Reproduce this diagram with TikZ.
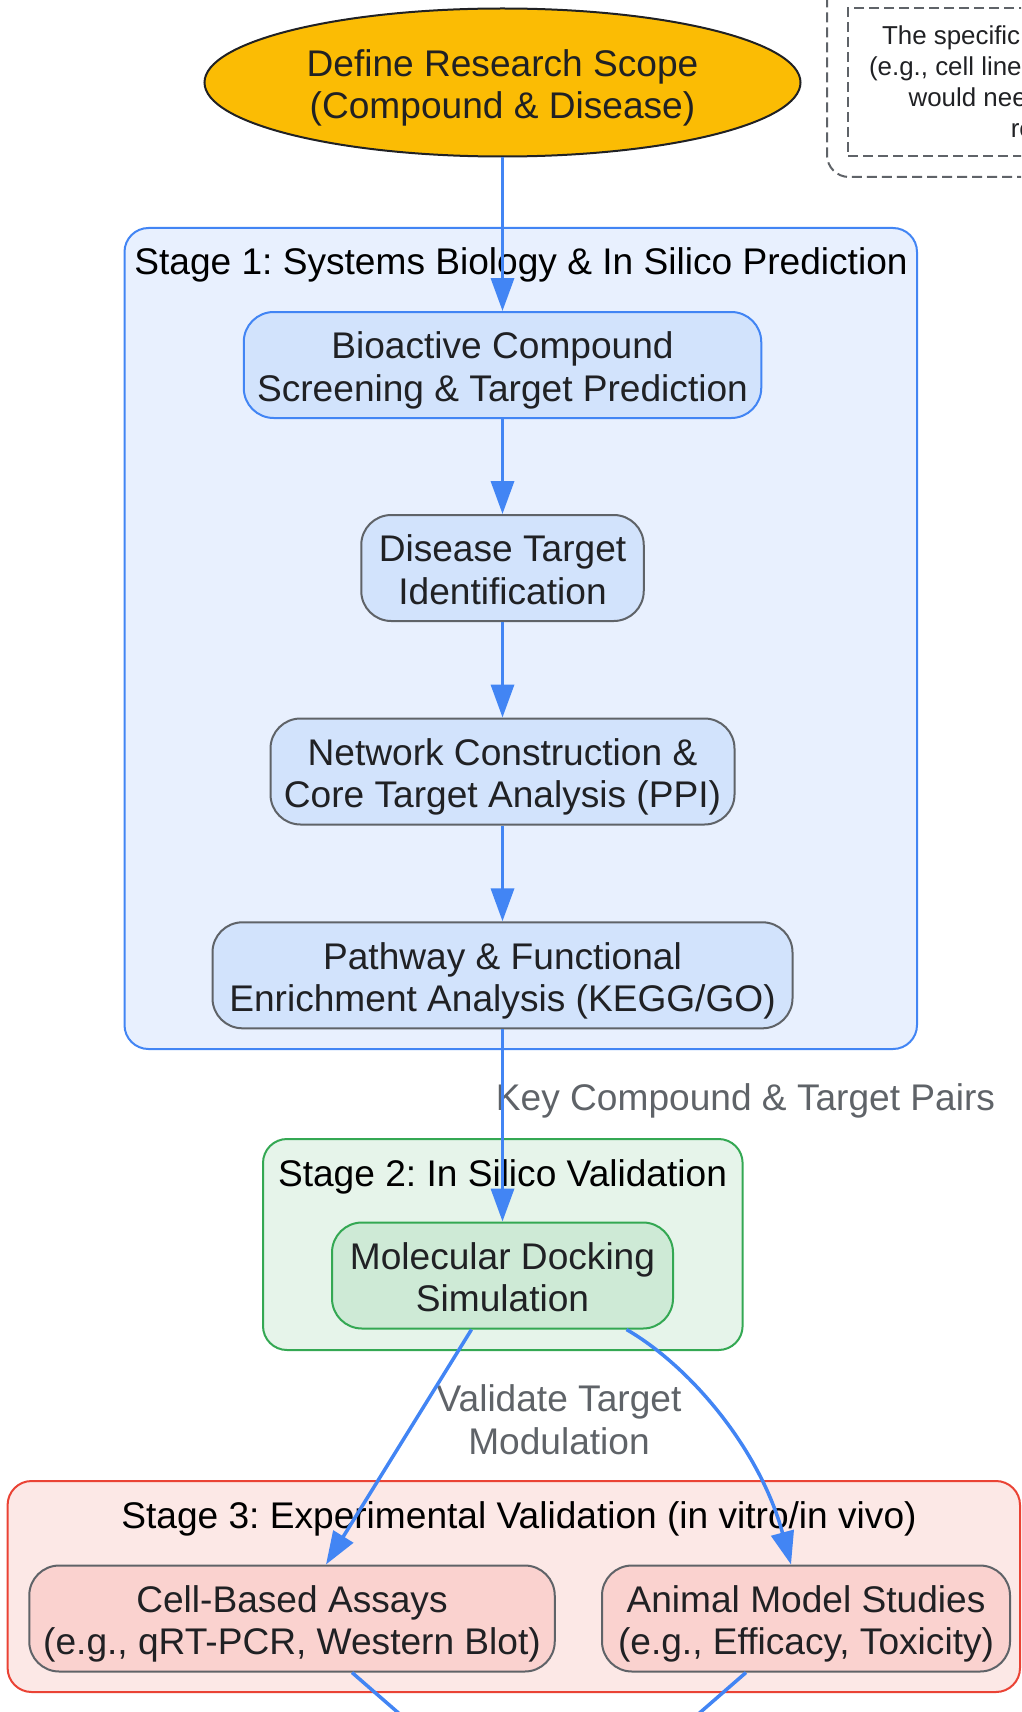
\documentclass[tikz,border=0pt]{standalone}
\usepackage{fontspec}
\setmainfont{Liberation Sans}
\usetikzlibrary{shapes.geometric,arrows.meta}
\definecolor{ink}{HTML}{202124}
\definecolor{gline}{HTML}{5F6368}
\definecolor{gblue}{HTML}{4285F4}
\definecolor{ggreen}{HTML}{34A853}
\definecolor{gred}{HTML}{EA4335}
\definecolor{gyellow}{HTML}{FBBC04}
\definecolor{bluebg}{HTML}{E8F0FE}
\definecolor{bluefill}{HTML}{D2E3FC}
\definecolor{greenbg}{HTML}{E6F4EA}
\definecolor{greenfill}{HTML}{CEEAD6}
\definecolor{redbg}{HTML}{FCE8E6}
\definecolor{redfill}{HTML}{FAD2CF}
\frenchspacing
\begin{document}
\begin{tikzpicture}[x=1pt,y=-1pt,
  every node/.style={font=\fontsize{37.1}{42.6}\selectfont,text=ink,align=center,inner sep=0pt},
  twoline/.style={execute at begin node={\rule{0pt}{80.6pt}},execute at end node={\rule[-8pt]{0pt}{0pt}}},
  task/.style={twoline,draw=gline,line width=2pt,fill=bluefill,rounded corners=30pt,minimum height=106pt},
  stagebox/.style={line width=2pt,rounded corners=24pt},
  stagetitle/.style={text=black,anchor=base},
  edgelbl/.style={text=gline},
  notedash/.style={draw=gline,line width=2pt,dash pattern=on 10pt off 5pt},
  flow/.style={draw=gblue,line width=3.5pt,-{Triangle[length=33pt,width=23pt]}}]
 \useasboundingbox (0,0) rectangle (1021,1712);
 \clip (0,0) rectangle (1021,1712);
 \node (notegroup) [notedash,rounded corners=22pt,minimum width=516pt,minimum height=220pt] at (1085,67) {};
 \node (note) [notedash,minimum width=474pt,minimum height=148pt,font=\fontsize{25.9}{31}\selectfont]
   at (1085,82) {The specific experimental protocols\\(e.g., cell lines, animal strains, doses)\\would need to be optimized for\\reliable data.};
 \node (stage1) [stagebox,draw=gblue,fill=bluebg,minimum width=792.5pt,minimum height=821pt] at (520.75,638.5) {};
 \node (stage2) [stagebox,draw=ggreen,fill=greenbg,minimum width=479.6pt,minimum height=211pt] at (502.8,1244.5) {};
 \node (stage3) [stagebox,draw=gred,fill=redbg,minimum width=1012.4pt,minimum height=211pt] at (513.8,1586.5) {};
 \node (title1) [stagetitle] at (521,274) {Stage 1: Systems Biology \& In Silico Prediction};
 \node (title2) [stagetitle] at (502.5,1186) {Stage 2: In Silico Validation};
 \node (title3) [stagetitle] at (519,1528) {Stage 3: Experimental Validation (in vitro/in vivo)};
 \node (scope) [ellipse,twoline,draw=ink,line width=2pt,fill=gyellow,minimum width=596pt,minimum height=148pt]
   at (502.5,82.5) {Define Research Scope\\(Compound \& Disease)};
 \node (b1) [task,draw=gblue,minimum width=517.5pt] at (502.5,365) {Bioactive Compound\\Screening \& Target Prediction};
 \node (b2) [task,minimum width=282.5pt] at (502.5,568) {Disease Target\\Identification};
 \node (b3) [task,minimum width=464pt] at (502.5,771.5) {Network Construction \&\\Core Target Analysis (PPI)};
 \node (b4) [task,minimum width=580pt] at (502.5,975.3) {Pathway \& Functional\\Enrichment Analysis (KEGG/GO)};
 \node (dock) [task,draw=ggreen,fill=greenfill,minimum width=341pt] at (502.5,1275.5) {Molecular Docking\\Simulation};
 \node (cell) [task,fill=redfill,minimum width=525.5pt] at (292,1618.5) {Cell-Based Assays\\(e.g., qRT-PCR, Western Blot)};
 \node (animal) [task,fill=redfill,minimum width=408pt] at (806,1618.5) {Animal Model Studies\\(e.g., Efficacy, Toxicity)};
 \coordinate (next) at (549,1844);
 \node (lblkey) [edgelbl] at (745.5,1101) {Key Compound \& Target Pairs};
 \node (lblval) [edgelbl] at (559,1420) {Validate Target\\Modulation};
 \draw[flow] (scope) -- (b1);
 \draw[flow] (b1) -- (b2);
 \draw[flow] (b2) -- (b3);
 \draw[flow] (b3) -- (b4);
 \draw[flow] (b4) -- (dock);
 \draw[flow] ([xshift=-31pt]dock.south) -- ([xshift=34pt]cell.north);
 \draw[flow] ([xshift=124pt]dock.south) .. controls +(64,37) and +(-31,-115) .. ([xshift=-15pt]animal.north);
 \draw[flow] ([xshift=60pt]cell.south) -- (next);
 \draw[flow] ([xshift=-60pt]animal.south) -- (next);
\end{tikzpicture}
\end{document}
